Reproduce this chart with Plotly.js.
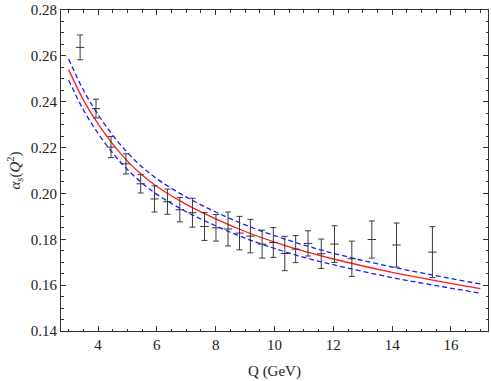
<!DOCTYPE html>
<html>
<head>
<meta charset="utf-8">
<script src="https://cdn.plot.ly/plotly-3.0.1.min.js"></script>
<style>
  html, body { margin: 0; padding: 0; background: #fff; }
  #chart { width: 491px; height: 381px; }
</style>
</head>
<body>
<div id="chart"></div>
<script>
// measured points (Q in GeV, alpha_s with symmetric errors)
var pointQ = [3.39, 3.93, 4.44, 4.95, 5.45, 5.92, 6.36, 6.78, 7.21, 7.62, 8.01, 8.42, 8.81,
  9.18, 9.58, 9.96, 10.35, 10.72, 11.14, 11.59, 12.04, 12.63, 13.31, 14.15, 15.37];
var pointAlpha = [0.2637, 0.2370, 0.2202, 0.2129, 0.2042, 0.1976, 0.1964, 0.1929, 0.1916,
  0.1856, 0.1850, 0.1845, 0.1827, 0.1814, 0.1779, 0.1786, 0.1738, 0.1757, 0.1782, 0.1737,
  0.1779, 0.1715, 0.1799, 0.1775, 0.1744];
var pointErr = [0.0054, 0.0041, 0.0046, 0.0044, 0.0040, 0.0057, 0.0055, 0.0053, 0.0063,
  0.0061, 0.0058, 0.0074, 0.0073, 0.0073, 0.0061, 0.0065, 0.0075, 0.0059, 0.0055, 0.0064,
  0.0080, 0.0077, 0.0081, 0.0096, 0.0111];

// curves
var curveQ = [3, 3.5, 4, 4.5, 5, 5.5, 6, 7, 8, 9, 10, 11, 12, 14, 17];
var curveMid = [0.2540, 0.2408, 0.2303, 0.2215, 0.2141, 0.2080, 0.2030, 0.1952, 0.1889,
  0.1834, 0.1788, 0.1748, 0.1714, 0.1656, 0.1585];
var curveUpper = [0.2586, 0.2451, 0.2344, 0.2254, 0.2178, 0.2115, 0.2064, 0.1984, 0.1919,
  0.1863, 0.1816, 0.1775, 0.1739, 0.1679, 0.1605];
var curveLower = [0.2494, 0.2365, 0.2262, 0.2176, 0.2104, 0.2045, 0.1996, 0.1920, 0.1859,
  0.1805, 0.1760, 0.1721, 0.1689, 0.1633, 0.1565];

var xTicks = [4, 6, 8, 10, 12, 14, 16];
var yTicks = [0.14, 0.16, 0.18, 0.20, 0.22, 0.24, 0.26, 0.28];

(function () {
  var frame = "#333";
  var font = { family: "'Liberation Serif', 'Times New Roman', serif", size: 15, color: "#222" };

  function band(y) {
    return {
      x: curveQ, y: y, type: "scatter", mode: "lines",
      line: { color: "#1a1aff", width: 1.3, dash: "5px,3px", shape: "spline", smoothing: 1 },
      hoverinfo: "skip",
    };
  }

  var traces = [
    band(curveUpper),
    band(curveLower),
    {
      x: curveQ, y: curveMid, type: "scatter", mode: "lines",
      line: { color: "#ff1a1a", width: 1.3, shape: "spline", smoothing: 1 },
    },
    {
      x: pointQ, y: pointAlpha, type: "scatter", mode: "markers",
      marker: { symbol: "line-ew", size: 6, line: { color: "#333", width: 1 } },
      error_y: { type: "data", array: pointErr, visible: true, color: "#3a3a3a", thickness: 1, width: 3 },
    },
  ];

  function axis(range, ticks, dtick, minor) {
    return {
      range: range,
      tickvals: ticks,
      ticktext: ticks.map(function (t) { return dtick < 1 ? t.toFixed(2) : String(t); }),
      ticks: "inside",
      ticklen: 5,
      tickcolor: frame,
      tickwidth: 1,
      minor: { dtick: minor, ticks: "inside", ticklen: 2.5, tickcolor: frame, tickwidth: 1 },
      showline: true,
      linecolor: frame,
      linewidth: 1,
      mirror: "allticks",
      showgrid: false,
      zeroline: false,
      tickfont: font,
    };
  }

  var xaxis = axis([2.74, 17.26], xTicks, 2, 0.5);
  xaxis.title = { text: "Q (GeV)", font: font, standoff: 13 };
  var yaxis = axis([0.14, 0.28], yTicks, 0.02, 0.005);
  yaxis.title = { text: "<i>α<sub>s</sub></i>(<i>Q</i><sup>2</sup>)", font: font, standoff: 6 };

  Plotly.newPlot(
    "chart",
    traces,
    {
      width: 491,
      height: 381,
      margin: { l: 61, r: 3, t: 10, b: 50 },
      paper_bgcolor: "#fff",
      plot_bgcolor: "#fff",
      showlegend: false,
      xaxis: xaxis,
      yaxis: yaxis,
    },
    { displayModeBar: false, staticPlot: true }
  );
})();
</script>
</body>
</html>
